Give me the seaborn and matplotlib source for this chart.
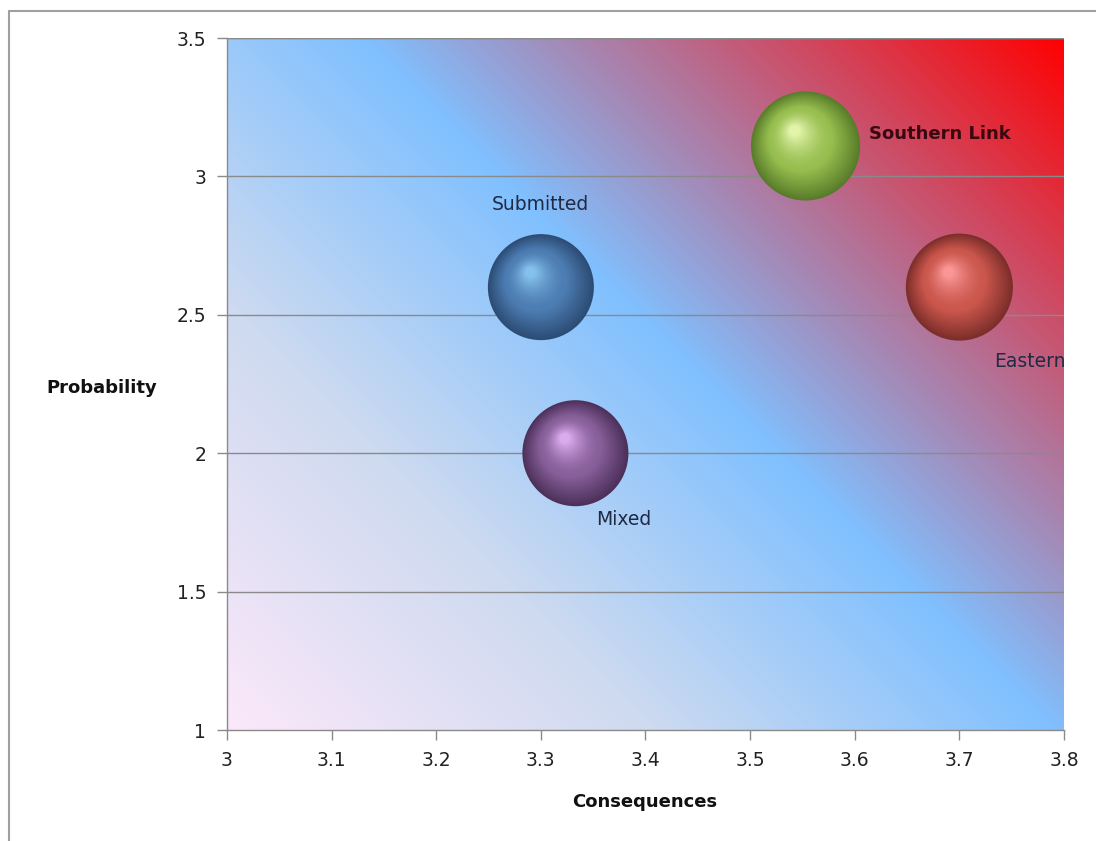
import numpy as np
import pandas as pd
import matplotlib
matplotlib.use("Agg")
import matplotlib.pyplot as plt
import matplotlib.transforms as mtrans
from matplotlib.lines import Line2D
import seaborn as sns

# ---- data ----
names = ["Submitted", "Mixed", "Southern Link", "Eastern"]
consequences = [3.30, 3.333, 3.553, 3.70]
probability = [2.60, 2.00, 3.11, 2.60]
bubble_size = [1.00, 1.00, 1.03, 1.01]
x_ticks = [3.0, 3.1, 3.2, 3.3, 3.4, 3.5, 3.6, 3.7, 3.8]
x_tick_labels = ["3", "3.1", "3.2", "3.3", "3.4", "3.5", "3.6", "3.7", "3.8"]
y_ticks = [1.0, 1.5, 2.0, 2.5, 3.0, 3.5]
y_tick_labels = ["1", "1.5", "2", "2.5", "3", "3.5"]

df = pd.DataFrame({"name": names, "x": consequences, "y": probability, "size": bubble_size})

sns.set_theme(style="white")
plt.rcParams["font.family"] = ["DejaVu Sans"]

W, H, DPI = 1096, 841, 100
AX_W, AX_H = 837, 692
fig = plt.figure(figsize=(W / DPI, H / DPI), dpi=DPI)
fig.patch.set_facecolor("white")
ax = fig.add_axes([227 / W, 1 - 730 / H, AX_W / W, AX_H / H])

# ---- gradient background (45 degrees in pixel space) ----
px = np.arange(AX_W)[None, :]
py = np.arange(AX_H)[:, None]
t = (px + py) / float(AX_W + AX_H)
stops_t = [0.0, 0.28, 0.54, 1.0]
stops_c = np.array([[252, 232, 250], [205, 218, 240], [128, 192, 255], [255, 0, 0]]) / 255.0
img = np.stack([np.interp(t, stops_t, stops_c[:, k]) for k in range(3)], axis=-1)
ax.imshow(img, extent=[3.0, 3.8, 1.0, 3.5], origin="lower", aspect="auto", zorder=0,
          interpolation="bilinear")

# ---- grid ----
for yv in y_ticks[1:]:
    ax.axhline(yv, color="#8a8a8a", lw=1.0, zorder=1)

# ---- bubbles ----
base_cols = {
    "Submitted": (76, 124, 178),
    "Mixed": (134, 94, 152),
    "Southern Link": (150, 190, 78),
    "Eastern": (202, 86, 76),
}
dark_cols = {
    "Submitted": (44, 76, 116),
    "Mixed": (76, 48, 90),
    "Southern Link": (88, 124, 42),
    "Eastern": (124, 46, 42),
}
hi_cols = {
    "Submitted": (132, 192, 236),
    "Mixed": (218, 170, 236),
    "Southern Link": (226, 244, 170),
    "Eastern": (250, 150, 150),
}
def c(rgb):
    return tuple(np.clip(np.array(rgb) / 255, 0, 1))

radius_px = 53.0
pt_per_px = 72.0 / DPI
base_s = (2 * radius_px * pt_per_px) ** 2
sizes = {nm: base_s * s ** 2 for nm, s in zip(names, bubble_size)}

sns.scatterplot(data=df, x="x", y="y", hue="name", size="name",
                palette={k: c(v) for k, v in dark_cols.items()},
                sizes=sizes, legend=False, edgecolor="none", ax=ax, zorder=3)

# shading layers for a 3D sphere look
N = 40
for nm, xv, yv, sz in zip(names, consequences, probability, bubble_size):
    r = radius_px * sz
    d0, b0, h0 = np.array(dark_cols[nm]), np.array(base_cols[nm]), np.array(hi_cols[nm])
    for k in range(1, N + 1):
        tt = k / N
        rr = r * (1 - 0.9 * tt)
        dx, dy = -0.20 * r * tt, 0.28 * r * tt
        if tt < 0.45:
            col = d0 + (b0 - d0) * (tt / 0.45)
        else:
            col = b0 + (h0 - b0) * ((tt - 0.45) / 0.55) ** 1.6
        off = mtrans.ScaledTranslation(dx / DPI, dy / DPI, fig.dpi_scale_trans)
        ax.scatter([xv], [yv], s=(2 * rr * pt_per_px) ** 2, color=c(col), edgecolor="none",
                   transform=ax.transData + off, zorder=3 + k * 0.01)

# ---- labels ----
label_offsets = {
    "Submitted": (0, 83),
    "Mixed": (48, -66),
    "Southern Link": (134, 12),
    "Eastern": (70, -74),
}
for nm, xv, yv in zip(names, consequences, probability):
    bold = nm == "Southern Link"
    ax.annotate(nm, (xv, yv), xytext=label_offsets[nm], textcoords="offset pixels",
                ha="center", va="center", fontsize=13 if bold else 13.5,
                fontweight="bold" if bold else "normal",
                color="#3a0810" if bold else "#1f2a44", zorder=10, annotation_clip=False)

# ---- axes styling ----
ax.set_xlim(3.0, 3.8)
ax.set_ylim(1.0, 3.5)
ax.set_xticks(x_ticks)
ax.set_xticklabels(x_tick_labels)
ax.set_yticks(y_ticks)
ax.set_yticklabels(y_tick_labels)
ax.tick_params(axis="both", direction="out", length=7, width=1, color="#8a8a8a",
               labelsize=13.5, labelcolor="#222222", pad=8, bottom=True, left=True)
for side in ["top", "right"]:
    ax.spines[side].set_visible(False)
for side in ["left", "bottom"]:
    ax.spines[side].set_color("#8a8a8a")
    ax.spines[side].set_linewidth(1)
ax.axhline(3.5, color="#8a8a8a", lw=1.0, zorder=1)

ax.set_xlabel("")
ax.set_ylabel("")
fig.text(645 / W, 1 - 802 / H, "Consequences", ha="center", va="center",
         fontsize=13, fontweight="bold", color="#111111")
fig.text(102 / W, 1 - 388 / H, "Probability", ha="center", va="center",
         fontsize=13, fontweight="bold", color="#111111")

# outer chart border
fig.add_artist(Line2D([9 / W, 9 / W], [0, 1 - 11 / H], transform=fig.transFigure,
                      color="#a0a0a0", lw=1.5))
fig.add_artist(Line2D([9 / W, 1], [1 - 11 / H, 1 - 11 / H], transform=fig.transFigure,
                      color="#a0a0a0", lw=1.5))

fig.savefig("out.png", dpi=DPI)
